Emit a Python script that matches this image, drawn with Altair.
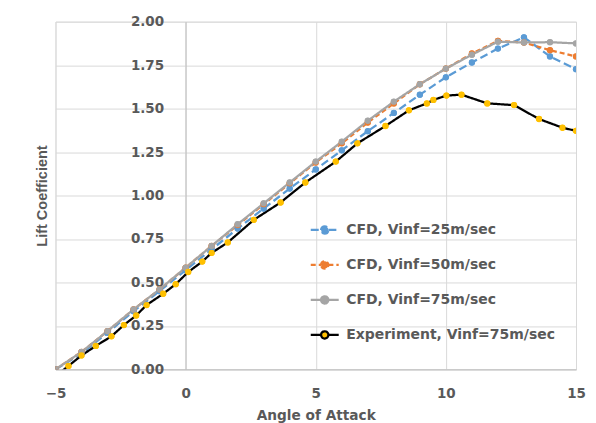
import altair as alt
import pandas as pd

series_names = ["CFD, Vinf=25m/sec", "CFD, Vinf=50m/sec", "CFD, Vinf=75m/sec", "Experiment, Vinf=75m/sec"]

angles_cfd = [-5, -4, -3, -2, -1, 0, 1, 2, 3, 4, 5, 6, 7, 8, 9, 10, 11, 12, 13, 14, 15]
cl_cfd_25 = [0.0, 0.09, 0.21, 0.335, 0.45, 0.57, 0.69, 0.81, 0.925, 1.04, 1.15, 1.26, 1.37, 1.475, 1.58, 1.68, 1.765, 1.845, 1.91, 1.80, 1.727]
cl_cfd_50 = [0.0, 0.10, 0.22, 0.345, 0.46, 0.585, 0.71, 0.83, 0.95, 1.07, 1.19, 1.30, 1.42, 1.53, 1.64, 1.73, 1.817, 1.89, 1.88, 1.836, 1.80]
cl_cfd_75 = [0.0, 0.10, 0.22, 0.345, 0.46, 0.585, 0.71, 0.835, 0.955, 1.075, 1.195, 1.31, 1.43, 1.54, 1.64, 1.73, 1.81, 1.885, 1.88, 1.882, 1.875]

angles_exp = [-5.0, -4.5, -4.0, -3.45, -2.85, -2.37, -1.9, -1.5, -0.86, -0.38, 0.1, 0.64, 1.0, 1.62, 2.62, 3.65, 4.6,
              5.77, 6.6, 7.68, 8.58, 9.27, 9.52, 10.02, 10.6, 11.59, 12.62, 13.58, 14.48, 15.0]
cl_exp = [-0.04, 0.02, 0.08, 0.135, 0.19, 0.255, 0.31, 0.37, 0.435, 0.49, 0.56, 0.62, 0.67, 0.73, 0.86, 0.96, 1.075,
          1.195, 1.30, 1.40, 1.49, 1.53, 1.55, 1.575, 1.58, 1.53, 1.52, 1.44, 1.39, 1.372]

x_ticks = [-5, 0, 5, 10, 15]
y_ticks = [0.0, 0.25, 0.5, 0.75, 1.0, 1.25, 1.5, 1.75, 2.0]

line_colors = ["#5b9bd5", "#ed7d31", "#a5a5a5", "#000000"]
marker_colors = ["#5b9bd5", "#ed7d31", "#a5a5a5", "#ffc000"]
dashes = [[8, 4], [5, 3], [1, 0], [1, 0]]
widths = [2.25, 2.25, 3.0, 1.5]

rows = []
for name, vals in zip(series_names[:3], [cl_cfd_25, cl_cfd_50, cl_cfd_75]):
    for a, c in zip(angles_cfd, vals):
        rows.append({"series": name, "angle": a, "cl": c})
for a, c in zip(angles_exp, cl_exp):
    rows.append({"series": series_names[3], "angle": a, "cl": c})
df = pd.DataFrame(rows)

W, H = 521, 348
x0, x1 = -5, 15
y_axis_shift = W * (0 - x0) / (x1 - x0)

text_color = "#595959"
font = "DejaVu Sans"

x_enc = alt.X("angle:Q", scale=alt.Scale(domain=[x0, x1], nice=False, zero=False),
              axis=alt.Axis(values=x_ticks, title="Angle of Attack", labelFlush=False, labelOverlap=False,
                            ticks=False, labelPadding=17, titlePadding=9,
                            labelFont=font, labelFontSize=13.5, labelFontWeight="bold", labelColor=text_color,
                            titleFont=font, titleFontSize=13.7, titleFontWeight="bold", titleColor=text_color,
                            domainColor="#bfbfbf", gridColor="#d9d9d9"))
y_enc = alt.Y("cl:Q", scale=alt.Scale(domain=[0, 2], nice=False, zero=False),
              axis=alt.Axis(values=y_ticks, format=".2f", title="Lift Coefficient", offset=-y_axis_shift,
                            ticks=False, labelPadding=22, labelFlush=False, labelOverlap=False,
                            labelFont=font, labelFontSize=13.5, labelFontWeight="bold", labelColor=text_color,
                            titleFont="Liberation Sans", titleFontSize=14.5, titleFontWeight="bold",
                            titleColor=text_color, titleAngle=270, titleAlign="center", titleBaseline="middle",
                            titleX=-(y_axis_shift + 12.5), titleY=H / 2,
                            domainColor="#bfbfbf", gridColor="#d9d9d9"))

symbol_path = "M-1,0L-0.26,0M0.26,0L1,0M-0.26,0A0.26,0.26,0,1,1,0.26,0A0.26,0.26,0,1,1,-0.26,0Z"


def make_legend():
    return alt.Legend(
        orient="none", legendX=254, legendY=193, title=None, padding=0,
        symbolType=symbol_path, symbolSize=784, rowPadding=11, labelOffset=6, labelLimit=400,
        symbolOpacity=1,
        labelFont=font, labelFontSize=14, labelFontWeight="bold", labelColor=text_color,
    )


fill_scale = alt.Scale(domain=series_names, range=marker_colors)

# first layer carries the legend (filled marker colours), markers are redrawn on top of the lines
points_legend = alt.Chart(df).mark_circle(size=36, opacity=1, clip=True).encode(
    x=x_enc, y=y_enc,
    fill=alt.Fill("series:N", scale=fill_scale, legend=make_legend()),
)

lines = alt.Chart(df).mark_line(clip=True).encode(
    x=x_enc, y=y_enc,
    stroke=alt.Stroke("series:N", scale=alt.Scale(domain=series_names, range=line_colors), legend=make_legend()),
    strokeDash=alt.StrokeDash("series:N", scale=alt.Scale(domain=series_names, range=dashes), legend=make_legend()),
    strokeWidth=alt.StrokeWidth("series:N", scale=alt.Scale(domain=series_names, range=widths), legend=make_legend()),
    order="angle:Q",
)

points = alt.Chart(df).mark_circle(size=40, opacity=1, clip=True).encode(
    x=x_enc, y=y_enc,
    fill=alt.Fill("series:N", scale=fill_scale, legend=make_legend()),
)

chart = alt.layer(points_legend, lines, points).properties(
    width=W, height=H,
    autosize=alt.AutoSizeParams(type="none"),
    padding={"left": 47.5, "top": 13.5, "right": 12, "bottom": 62},
).configure_view(stroke=None).configure(background="white")

chart.save("out.html", embed_options={"renderer": "svg", "actions": False})
